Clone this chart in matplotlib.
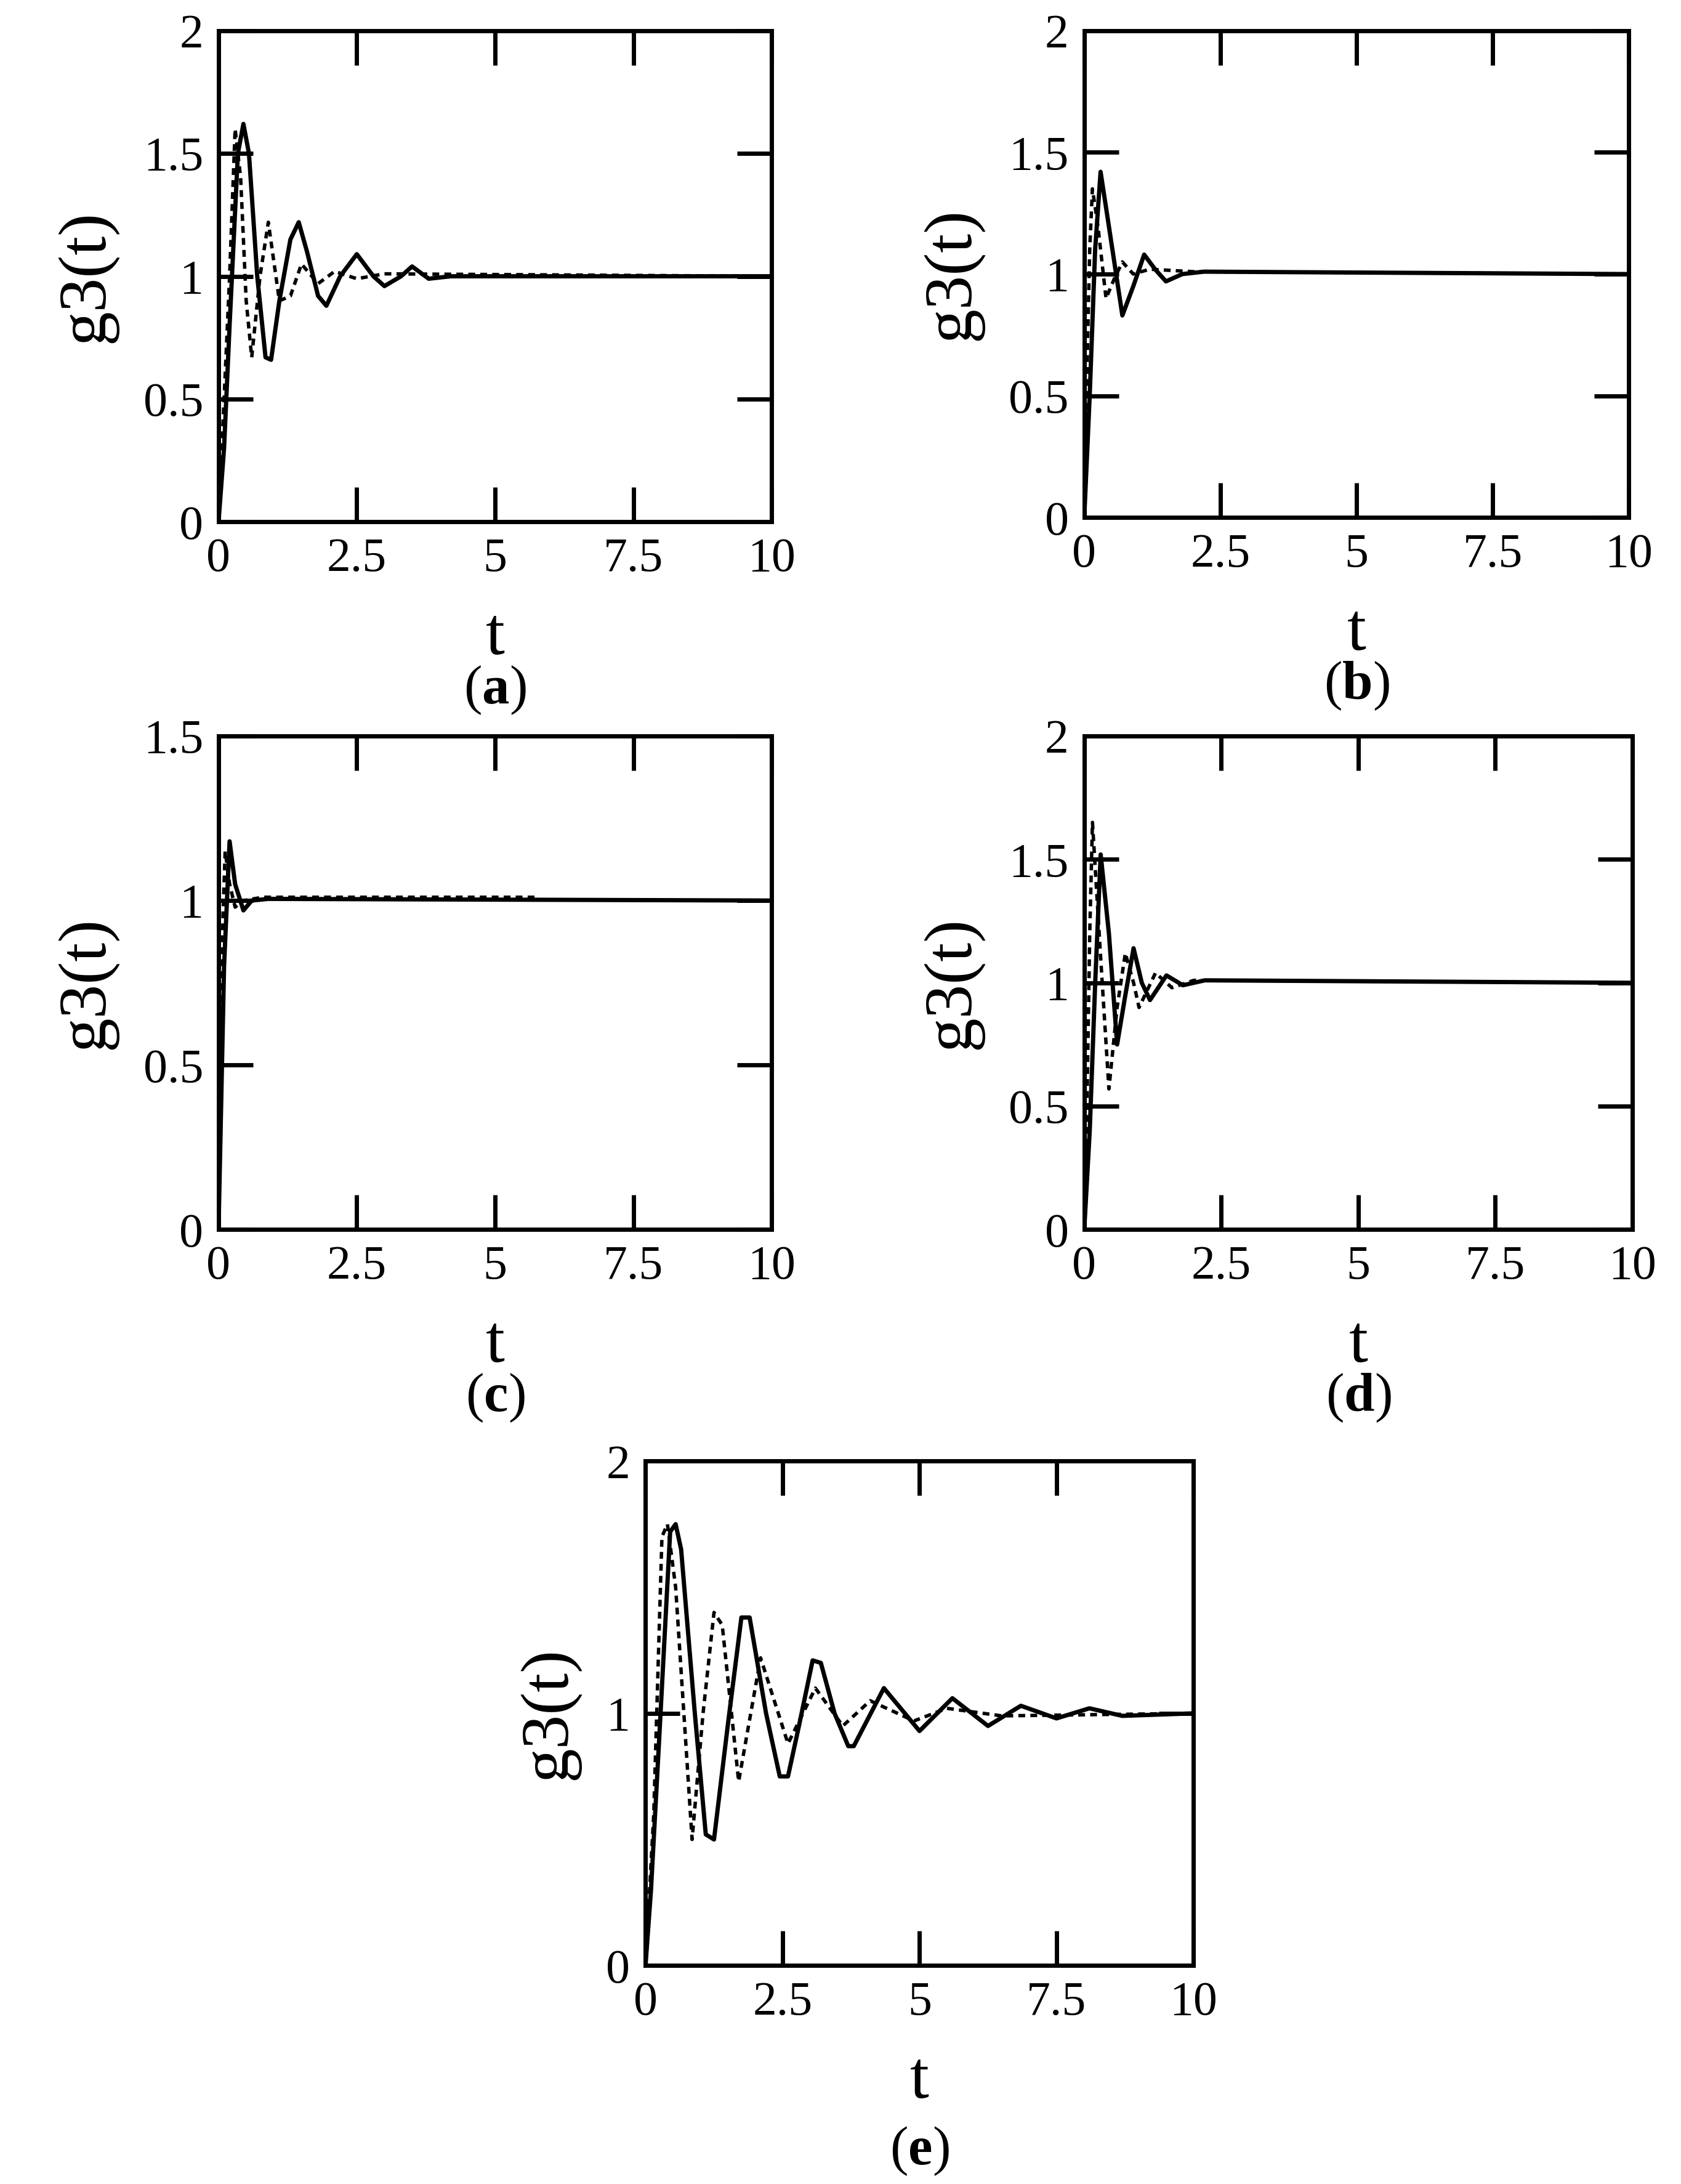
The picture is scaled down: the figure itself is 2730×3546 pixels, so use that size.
import matplotlib
matplotlib.use('Agg')
import matplotlib.pyplot as plt

plt.rcParams['font.family'] = 'Liberation Serif'
plt.rcParams['mathtext.fontset'] = 'custom'
plt.rcParams['mathtext.rm'] = 'Liberation Serif'
plt.rcParams['mathtext.bf'] = 'Liberation Serif:bold'

# values (peaks / troughs of each response)
a_solid_t = [0, 0.1, 0.2, 0.35, 0.45, 0.55, 0.7, 0.85, 0.95, 1.1, 1.3, 1.45, 1.6, 1.8, 1.95, 2.2, 2.5, 2.8, 3.0, 3.3, 3.5, 3.8, 4.2, 10]
a_solid_y = [0, 0.3, 0.8, 1.5, 1.62, 1.5, 1.0, 0.67, 0.66, 0.9, 1.15, 1.22, 1.1, 0.92, 0.88, 1.0, 1.09, 1.0, 0.96, 1.0, 1.04, 0.99, 1.0, 1.0]
a_dot_t = [0, 0.1, 0.2, 0.3, 0.4, 0.5, 0.6, 0.75, 0.9, 1.1, 1.3, 1.5, 1.8, 2.1, 2.5, 3.0, 10]
a_dot_y = [0, 0.5, 1.0, 1.6, 1.4, 0.9, 0.67, 1.0, 1.22, 0.9, 0.92, 1.05, 0.97, 1.02, 0.99, 1.01, 1.0]

b_solid_t = [0, 0.1, 0.2, 0.3, 0.45, 0.7, 0.9, 1.1, 1.3, 1.5, 1.8, 2.2, 10]
b_solid_y = [0, 0.5, 1.1, 1.42, 1.2, 0.83, 0.95, 1.08, 1.02, 0.97, 1.0, 1.01, 1.0]
b_dot_t = [0, 0.05, 0.1, 0.15, 0.25, 0.4, 0.55, 0.7, 0.9, 1.2, 2.0, 10]
b_dot_y = [0, 0.6, 1.1, 1.35, 1.2, 0.9, 0.98, 1.05, 1.0, 1.02, 1.01, 1.0]

c_solid_t = [0, 0.05, 0.1, 0.2, 0.3, 0.45, 0.6, 0.9, 10]
c_solid_y = [0, 0.4, 0.8, 1.18, 1.05, 0.97, 1.0, 1.005, 1.0]
c_dot_t = [0, 0.04, 0.08, 0.12, 0.2, 0.3, 0.45, 0.8, 5.8]
c_dot_y = [0, 0.5, 0.95, 1.15, 1.05, 0.98, 1.0, 1.01, 1.01]

d_solid_t = [0, 0.1, 0.2, 0.3, 0.45, 0.6, 0.75, 0.9, 1.05, 1.2, 1.5, 1.8, 2.2, 10]
d_solid_y = [0, 0.4, 1.0, 1.52, 1.2, 0.75, 0.95, 1.14, 1.0, 0.93, 1.03, 0.99, 1.01, 1.0]
d_dot_t = [0, 0.05, 0.1, 0.15, 0.3, 0.45, 0.6, 0.75, 0.9, 1.0, 1.3, 1.6, 2.0, 10]
d_dot_y = [0, 0.5, 1.2, 1.65, 1.1, 0.57, 0.9, 1.12, 1.0, 0.9, 1.04, 0.98, 1.01, 1.0]

e_solid_t = [0, 0.1, 0.25, 0.45, 0.55, 0.65, 0.9, 1.1, 1.25, 1.5, 1.75, 1.9, 2.2, 2.45, 2.6, 2.8, 3.05, 3.2, 3.45, 3.7, 3.8, 4.35, 5.0, 5.6, 6.25, 6.85, 7.5, 8.1, 8.7, 10]
e_solid_y = [0, 0.3, 0.9, 1.72, 1.75, 1.65, 1.0, 0.52, 0.5, 0.95, 1.38, 1.38, 1.0, 0.75, 0.75, 0.95, 1.21, 1.2, 1.0, 0.87, 0.87, 1.1, 0.93, 1.06, 0.95, 1.03, 0.98, 1.02, 0.99, 1.0]
e_dot_t = [0, 0.15, 0.3, 0.4, 0.55, 0.85, 1.05, 1.25, 1.4, 1.7, 2.1, 2.6, 3.1, 3.6, 4.1, 4.9, 5.5, 6.5, 10]
e_dot_y = [0, 0.6, 1.7, 1.75, 1.5, 0.5, 1.0, 1.4, 1.35, 0.73, 1.22, 0.88, 1.1, 0.95, 1.05, 0.97, 1.02, 0.99, 1.0]

panels = [
    ('a', [0.130, 0.761, 0.329, 0.225], 2.0, [0, 0.5, 1, 1.5, 2], a_solid_t, a_solid_y, a_dot_t, a_dot_y),
    ('b', [0.645, 0.763, 0.324, 0.223], 2.0, [0, 0.5, 1, 1.5, 2], b_solid_t, b_solid_y, b_dot_t, b_dot_y),
    ('c', [0.130, 0.437, 0.329, 0.226], 1.5, [0, 0.5, 1, 1.5], c_solid_t, c_solid_y, c_dot_t, c_dot_y),
    ('d', [0.645, 0.437, 0.326, 0.226], 2.0, [0, 0.5, 1, 1.5, 2], d_solid_t, d_solid_y, d_dot_t, d_dot_y),
    ('e', [0.384, 0.100, 0.326, 0.231], 2.0, [0, 1, 2], e_solid_t, e_solid_y, e_dot_t, e_dot_y),
]
x_ticks = [0, 2.5, 5, 7.5, 10]
x_labels = ['0', '2.5', '5', '7.5', '10']

fig = plt.figure(figsize=(27.3, 35.46), dpi=100)

for name, rect, ymax, yt, st, sy, dt, dy in panels:
    ax = fig.add_axes(rect)
    ax.plot(st, sy, color='black', lw=5)
    ax.plot(dt, dy, color='black', lw=4, ls=(0, (2, 1.5)))
    ax.set_xlim(0, 10)
    ax.set_ylim(0, ymax)
    ax.set_xticks(x_ticks)
    ax.set_xticklabels(x_labels)
    ax.set_yticks(yt)
    ax.set_yticklabels([('%g' % v) for v in yt])
    ax.tick_params(direction='in', length=40, width=5, labelsize=56,
                   top=True, right=True, pad=18)
    for s in ax.spines.values():
        s.set_linewidth(5)
    ax.set_xlabel('t', fontsize=80, labelpad=30)
    ax.set_ylabel('g3(t)', fontsize=80, labelpad=30)
    x0 = rect[0] + rect[2] / 2
    off = 0.085 if name == 'e' else 0.077
    fig.text(x0, rect[1] - off, '($\\mathbf{%s}$)' % name, ha='center', va='center', fontsize=64)

fig.savefig('out.png', dpi=100, facecolor='white')
